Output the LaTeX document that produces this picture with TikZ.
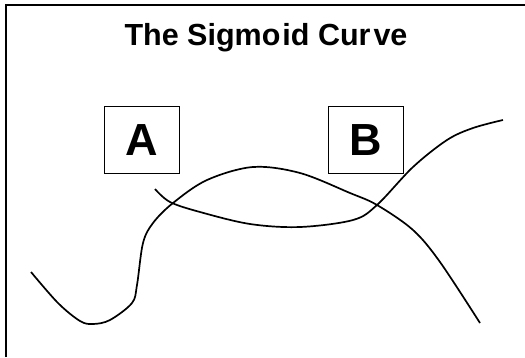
\documentclass[tikz,border=0pt]{standalone}
\usepackage{fontspec}
\setmainfont{Liberation Sans}
\begin{document}
\begin{tikzpicture}[x=1pt,y=-1pt,
  lbox/.style={draw,line width=1.3pt,minimum width=75pt,minimum height=67pt,inner sep=0pt,font=\fontsize{45}{50}\selectfont\bfseries},
  curve/.style={line width=1.7pt,line cap=butt}]
\useasboundingbox (0,0) rectangle (525,357);
\fill[white] (0,0) rectangle (525,357);
\draw[line width=2pt] (6,357) -- (6,5) -- (525,5);
\node[font=\fontsize{30.5}{34}\selectfont\bfseries] (title) at (266,38) {The Sigmo\kern2pt id Cur\kern3pt ve};
\node[lbox] (A) at (142,140) {A};
\node[lbox] (B) at (366,140) {B};
\draw[curve] plot[smooth,tension=0.55] coordinates {(31,272) (58,303) (80,321) (93,324) (110,320) (132,303) (137,285) (143,243) (153,223) (173,203) (207,180) (253,167) (300,173) (350,193) (377,205) (413,230) (440,262) (480,323)};
\draw[curve] plot[smooth,tension=0.55] coordinates {(155,189) (170,202) (200,212) (250,224) (300,227) (353,220) (377,205) (413,167) (447,140) (473,128) (503,120)};
\end{tikzpicture}
\end{document}
